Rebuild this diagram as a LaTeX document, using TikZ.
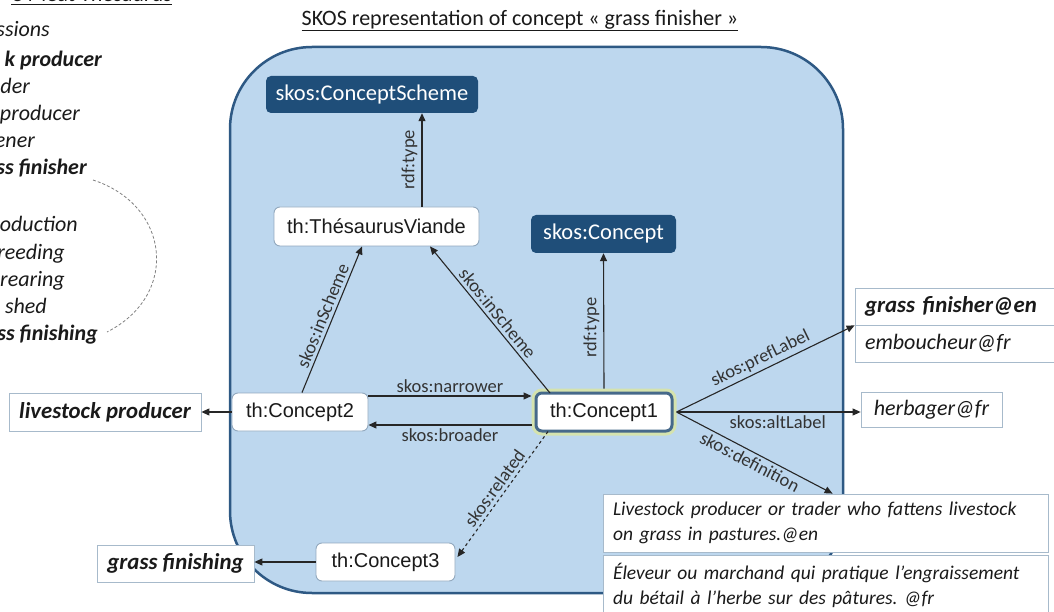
\documentclass[tikz,border=0pt]{standalone}
\usepackage{fontspec}
\setmainfont{Carlito}
\newfontfamily\arialf{Liberation Sans}
\usetikzlibrary{arrows.meta}
\frenchspacing
\definecolor{bgfill}{HTML}{BDD7EE}
\definecolor{bgdraw}{HTML}{2E5984}
\definecolor{darknode}{HTML}{1F4E79}
\definecolor{wborder}{HTML}{93A9BE}
\definecolor{lborder}{HTML}{A7BACB}
\definecolor{cborder}{HTML}{46698A}
\definecolor{glow}{HTML}{D5E3AE}
\definecolor{arrowc}{HTML}{262626}
\definecolor{labc}{HTML}{333333}
\definecolor{txtc}{HTML}{1A1A1A}
\tikzset{
  darkbox/.style={rectangle, rounded corners=5pt, fill=darknode, text=white,
    font=\fontsize{22.5}{26}\selectfont, inner sep=0pt},
  whitebox/.style={rectangle, rounded corners=6pt, fill=white, draw=wborder,
    line width=0.9pt, text=txtc, font=\arialf\fontsize{20}{23}\selectfont, inner sep=0pt},
  mainbox/.style={rectangle, rounded corners=6pt, fill=white, draw=cborder,
    line width=3pt, preaction={draw=glow, line width=9pt}, outer sep=4.5pt,
    text=txtc, font=\arialf\fontsize{20}{23}\selectfont, inner sep=0pt},
  litbox/.style={rectangle, draw=lborder, fill=white, line width=0.8pt, inner sep=0pt,
    text=txtc, font=\fontsize{22.8}{26}\selectfont\bfseries\itshape},
  litplain/.style={litbox, font=\fontsize{22}{26}\selectfont\itshape},
  deflit/.style={rectangle, draw=lborder, fill=white, line width=0.8pt, inner xsep=10pt,
    inner ysep=0pt, text width=425pt, align=left, text=txtc,
    font=\fontsize{19.5}{25}\selectfont\itshape},
  rel/.style={draw=arrowc, line width=1.1pt, -{Triangle[length=8pt,width=7pt]}},
  elab/.style={font=\fontsize{18.5}{21}\selectfont, text=labc, inner sep=0pt},
  listit/.style={anchor=base east, inner sep=0pt, text=txtc, font=\fontsize{22}{26}\selectfont\itshape},
  listbf/.style={listit, font=\fontsize{22}{26}\selectfont\bfseries\itshape},
}
\begin{document}
\begin{tikzpicture}[x=1pt,y=-1pt]
\useasboundingbox (0,0) rectangle (1054,612);
\fill[white] (0,0) rectangle (1054,612);

% left list (cropped in the reference)
\node[anchor=base east, inner sep=0pt, text=txtc, font=\fontsize{22}{26}\selectfont] (lt) at (172,2) {e Meat Thesaurus};
\draw[txtc, line width=1pt] ([yshift=-3pt]lt.base west) -- ([yshift=-3pt]lt.base east);
\node[listit] (l1) at (50,37) {ssions};
\node[listbf] (l2) at (102,67) {k producer};
\node[listit] (l3) at (30,94) {eder};
\node[listit] (l4) at (80,121) {producer};
\node[listit] (l5) at (35,148) {ener};
\node[listbf] (l6) at (87,175) {ss finisher};
\node[listit] (l7) at (78,232) {oduction};
\node[listit] (l8) at (65,260) {reeding};
\node[listit] (l9) at (65,287) {rearing};
\node[listit] (l10) at (47,313) {shed};
\node[listbf] (l11) at (98,340) {ss finishing};
\draw[gray, line width=0.8pt, dash pattern=on 3pt off 2pt]
  (93,180) .. controls (170,205) and (180,295) .. (107,332);

% title
\node[anchor=base, inner sep=0pt, text=txtc, font=\fontsize{22}{26}\selectfont] (title) at (520,26) {SKOS representation of concept « grass finisher »};
\draw[txtc, line width=0.9pt] ([yshift=-4pt]title.base west) -- ([yshift=-4pt]title.base east);

% big container
\filldraw[fill=bgfill, draw=bgdraw, line width=2.5pt, rounded corners=82pt] (230,47) rectangle (843,593);

% nodes
\node[darkbox, minimum width=212pt, minimum height=37pt] (cs) at (372,94.5) {skos:ConceptScheme};
\node[whitebox, minimum width=205pt, minimum height=39pt] (tv) at (376.5,226.5) {th:ThésaurusViande};
\node[darkbox, minimum width=145pt, minimum height=38pt] (sc) at (603.5,234) {skos:Concept};
\node[whitebox, minimum width=136pt, minimum height=38pt] (c2) at (300,412) {th:Concept2};
\node[mainbox, minimum width=136pt, minimum height=38pt] (c1) at (604,412) {th:Concept1};
\node[whitebox, minimum width=139pt, minimum height=38pt] (c3) at (385.5,562) {th:Concept3};

\node[litbox, minimum width=192pt, minimum height=38pt] (lp) at (105,412) {livestock producer};
\node[litbox, minimum width=157pt, minimum height=37pt] (gf) at (175.5,563.5) {grass finishing};
\node[litbox, text width=189pt, inner xsep=10pt, align=left, minimum height=37pt] (pen) at (959.5,306.5) {grass finisher@en};
\node[litplain, text width=189pt, inner xsep=10pt, align=left, minimum height=37pt] (pfr) at (959.5,343.5) {emboucheur@fr};
\node[litplain, minimum width=141pt, minimum height=35pt] (alt) at (931.5,409.5) {herbager@fr};
\node[deflit, minimum height=58pt] (den) at (825.5,523) {Livestock producer or trader who fattens livestock\\on grass in pastures.@en};
\node[deflit, minimum height=60pt] (dfr) at (825.5,585) {Éleveur ou marchand qui pratique l’engraissement\\du bétail à l’herbe sur des pâtures. @fr};

% helper coordinates
\coordinate (a1) at ([xshift=45.5pt]tv.north);
\coordinate (a2s) at ([xshift=2pt]c2.north);
\coordinate (a2e) at ([xshift=-14.5pt]tv.south);
\coordinate (a3s) at ([xshift=-54pt,yshift=-4.5pt]c1.north);
\coordinate (a3e) at ([xshift=53.5pt]tv.south);
\coordinate (nar) at ([yshift=16pt]c2.east);
\coordinate (bro) at ([yshift=-13pt]c1.west);
\coordinate (dtip) at ([xshift=230pt]den.north west);
\coordinate (rels) at ([xshift=-56pt,yshift=4pt]c1.south);
\coordinate (rele) at ([xshift=2pt,yshift=5pt]c3.east);

% connectors
\draw[rel] (a1) -- (a1 |- cs.south) node[elab, midway, rotate=90, above=4pt] {rdf:type};
\draw[rel] (a2s) -- (a2e) node[elab, midway, sloped, above=3pt] {skos:inScheme};
\draw[rel] (a3s) -- (a3e) node[elab, midway, sloped, above=3pt] {skos:inScheme};
\draw[rel] (c1.north) -- (sc.south) node[elab, pos=0.45, rotate=90, above=4pt] {rdf:type};
\draw[rel] (nar) -- (nar -| c1.west) node[elab, midway, above=3pt] {skos:narrower};
\draw[rel] (bro) -- (bro -| c2.east) node[elab, midway, below=3pt] {skos:broader};
\draw[rel] (c1.east) -- (pen.south west) node[elab, midway, sloped, above=3pt] {skos:prefLabel};
\draw[rel] (c1.east) -- (c1.east -| alt.west) node[elab, pos=0.55, below=3pt] {skos:altLabel};
\draw[rel] (c1.east) -- (dtip) node[elab, midway, sloped, below=3pt] {skos:definition};
\draw[rel, dashed] (rels) -- (rele) node[elab, midway, sloped, above=3pt] {skos:related};
\draw[rel] (c2.west) -- (c2.west -| lp.east);
\draw[rel] (c3.west) -- (c3.west -| gf.east);
\end{tikzpicture}
\end{document}
